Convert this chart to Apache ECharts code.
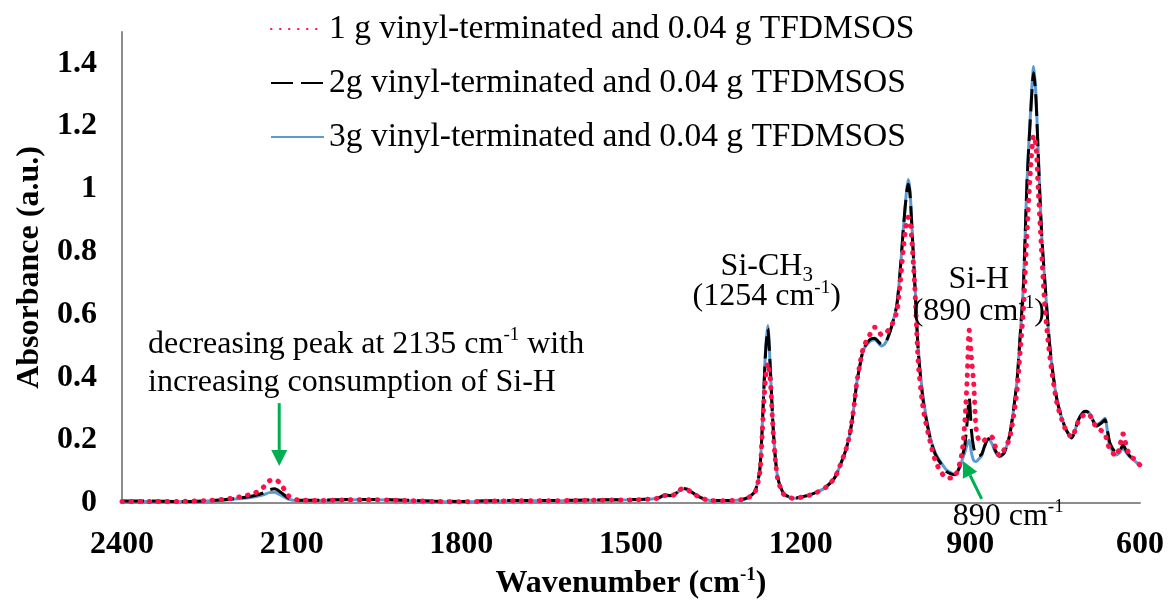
<!DOCTYPE html>
<html><head><meta charset="utf-8">
<script src="https://cdn.jsdelivr.net/npm/echarts@6/dist/echarts.min.js"></script>
<style>html,body{margin:0;padding:0;background:#fff}#c{width:1168px;height:605px}</style>
</head><body><div id="c"></div>
<script>
const wavenumbers = [
  2400, 2350, 2300, 2250, 2220, 2190, 2165, 2150, 2140, 2130,
  2120, 2105, 2090, 2050, 2000, 1950, 1900, 1850, 1800, 1750,
  1700, 1650, 1600, 1550, 1500, 1470, 1450, 1440, 1430, 1420,
  1410, 1400, 1390, 1375, 1360, 1340, 1320, 1300, 1290, 1280,
  1272, 1266, 1262, 1258, 1254, 1248, 1241, 1231, 1220, 1210,
  1195, 1184, 1170, 1154, 1140, 1131, 1120, 1113, 1107, 1101,
  1095, 1089, 1078, 1069, 1063, 1057, 1050, 1045, 1038, 1030,
  1024, 1019, 1014, 1010, 1007, 1004, 998, 992, 983, 971,
  962, 954, 942, 933, 927, 918, 914, 910, 906, 902,
  898, 894, 890, 885, 880, 875, 868, 862, 855, 848,
  840, 830, 818, 812, 806, 800, 794, 788, 784, 780,
  774, 768, 759, 747, 733, 721, 709, 700, 695, 689,
  677, 668, 662, 657, 653, 642, 636, 630, 624, 618,
  610, 600
];
// 1 g vinyl-terminated (red dotted)
const abs1g = [
  0.005, 0.005, 0.005, 0.008, 0.012, 0.020, 0.032, 0.050, 0.070, 0.075,
  0.062, 0.022, 0.010, 0.008, 0.010, 0.010, 0.008, 0.005, 0.004, 0.006,
  0.007, 0.007, 0.008, 0.009, 0.010, 0.012, 0.016, 0.024, 0.022, 0.030,
  0.045, 0.042, 0.030, 0.015, 0.008, 0.007, 0.008, 0.012, 0.020, 0.038,
  0.100, 0.290, 0.400, 0.445, 0.400, 0.210, 0.080, 0.030, 0.017, 0.015,
  0.020, 0.025, 0.035, 0.052, 0.080, 0.116, 0.170, 0.220, 0.290, 0.380,
  0.445, 0.495, 0.535, 0.560, 0.550, 0.535, 0.540, 0.550, 0.570, 0.610,
  0.700, 0.800, 0.880, 0.910, 0.900, 0.850, 0.680, 0.445, 0.296, 0.195,
  0.135, 0.105, 0.080, 0.080, 0.085, 0.130, 0.170, 0.250, 0.380, 0.550,
  0.460, 0.380, 0.240, 0.200, 0.195, 0.200, 0.210, 0.210, 0.175, 0.150,
  0.170, 0.210, 0.350, 0.480, 0.620, 0.850, 1.050, 1.170, 1.140, 1.000,
  0.800, 0.620, 0.460, 0.320, 0.240, 0.210, 0.260, 0.280, 0.282, 0.280,
  0.240, 0.230, 0.220, 0.190, 0.170, 0.150, 0.180, 0.220, 0.180, 0.150,
  0.140, 0.120
];
// 2g vinyl-terminated (black dashed)
const abs2g = [
  0.006, 0.006, 0.005, 0.007, 0.010, 0.016, 0.024, 0.032, 0.042, 0.045,
  0.035, 0.015, 0.009, 0.009, 0.011, 0.011, 0.009, 0.006, 0.005, 0.007,
  0.008, 0.008, 0.009, 0.010, 0.011, 0.013, 0.018, 0.026, 0.024, 0.032,
  0.047, 0.044, 0.032, 0.016, 0.009, 0.008, 0.009, 0.013, 0.021, 0.040,
  0.110, 0.320, 0.480, 0.555, 0.440, 0.220, 0.085, 0.033, 0.019, 0.016,
  0.021, 0.026, 0.036, 0.053, 0.080, 0.116, 0.170, 0.220, 0.290, 0.380,
  0.440, 0.490, 0.520, 0.525, 0.515, 0.505, 0.512, 0.530, 0.570, 0.630,
  0.740, 0.860, 0.965, 1.015, 0.990, 0.900, 0.690, 0.480, 0.320, 0.205,
  0.155, 0.130, 0.100, 0.092, 0.090, 0.120, 0.150, 0.180, 0.250, 0.335,
  0.230, 0.175, 0.155, 0.150, 0.155, 0.180, 0.205, 0.195, 0.165, 0.150,
  0.160, 0.220, 0.380, 0.530, 0.700, 1.010, 1.220, 1.370, 1.290, 1.110,
  0.860, 0.700, 0.490, 0.330, 0.243, 0.208, 0.265, 0.290, 0.292, 0.285,
  0.245, 0.255, 0.265, 0.225, 0.190, 0.160, 0.165, 0.185, 0.165, 0.150,
  0.137, 0.120
];
// 3g vinyl-terminated (blue solid)
const abs3g = [
  0.005, 0.005, 0.004, 0.006, 0.009, 0.014, 0.020, 0.026, 0.033, 0.034,
  0.026, 0.012, 0.008, 0.008, 0.010, 0.010, 0.008, 0.005, 0.004, 0.006,
  0.007, 0.007, 0.008, 0.009, 0.010, 0.012, 0.016, 0.024, 0.022, 0.030,
  0.045, 0.042, 0.030, 0.015, 0.008, 0.007, 0.008, 0.012, 0.020, 0.040,
  0.110, 0.330, 0.490, 0.565, 0.440, 0.220, 0.085, 0.032, 0.018, 0.015,
  0.020, 0.025, 0.035, 0.052, 0.080, 0.116, 0.170, 0.220, 0.290, 0.380,
  0.440, 0.487, 0.514, 0.520, 0.510, 0.500, 0.510, 0.530, 0.570, 0.630,
  0.740, 0.860, 0.970, 1.030, 1.000, 0.910, 0.700, 0.490, 0.330, 0.210,
  0.160, 0.135, 0.105, 0.095, 0.090, 0.115, 0.140, 0.160, 0.185, 0.200,
  0.160, 0.135, 0.132, 0.140, 0.150, 0.180, 0.205, 0.190, 0.160, 0.147,
  0.160, 0.220, 0.380, 0.530, 0.700, 1.020, 1.230, 1.390, 1.300, 1.120,
  0.860, 0.700, 0.490, 0.330, 0.243, 0.206, 0.264, 0.290, 0.290, 0.285,
  0.250, 0.260, 0.270, 0.220, 0.180, 0.153, 0.160, 0.175, 0.160, 0.147,
  0.135, 0.120
];
const seriesNames = [
  '1 g vinyl-terminated and 0.04 g TFDMSOS',
  '2g vinyl-terminated and 0.04 g TFDMSOS',
  '3g vinyl-terminated and 0.04 g TFDMSOS'
];
const xRange = [600, 2400];
const xStep = 300;
const yRange = [0, 1.5];
const yStep = 0.2;

const FONT = "'Liberation Serif', 'Times New Roman', serif";
const chart = echarts.init(document.getElementById('c'), null, {renderer: 'canvas'});
const pairs = vals => wavenumbers.map((w, i) => [w, vals[i]]);

const option = {
  animation: false,
  backgroundColor: '#fff',
  grid: {left: 122, right: 28, top: 32, bottom: 102, containLabel: false, outerBoundsMode: 'none'},
  legend: {
    data: seriesNames,
    orient: 'vertical',
    left: 265, top: 7,
    itemWidth: 53, itemHeight: 14, itemGap: 20,
    itemStyle: {opacity: 0},
    textStyle: {fontFamily: FONT, fontSize: 33.5, color: '#000', lineHeight: 34}
  },
  xAxis: {
    type: 'value', inverse: true,
    min: xRange[0], max: xRange[1], interval: xStep,
    axisLine: {lineStyle: {color: '#8c8c8c', width: 2}},
    axisTick: {show: false},
    splitLine: {show: false},
    axisLabel: {fontFamily: FONT, fontSize: 32, fontWeight: 'bold', color: '#000', margin: 26,
      formatter: v => String(v)},
    name: '{b|Wavenumber (cm}{s|-1}{b|)}',
    nameLocation: 'middle', nameGap: 60,
    nameTextStyle: {
      rich: {
        b: {fontFamily: FONT, fontSize: 32, fontWeight: 'bold', color: '#000', lineHeight: 36},
        s: {fontFamily: FONT, fontSize: 19, fontWeight: 'bold', color: '#000', lineHeight: 19, verticalAlign: 'top'}
      }
    }
  },
  yAxis: {
    type: 'value',
    min: yRange[0], max: yRange[1], interval: yStep,
    axisLine: {show: true, lineStyle: {color: '#8c8c8c', width: 2}},
    axisTick: {show: false},
    splitLine: {show: false},
    axisLabel: {fontFamily: FONT, fontSize: 32, fontWeight: 'bold', color: '#000', margin: 25, showMaxLabel: false},
    name: 'Absorbance (a.u.)',
    nameLocation: 'middle', nameGap: 69,
    nameTextStyle: {fontFamily: FONT, fontSize: 32, fontWeight: 'bold', color: '#000'}
  },
  series: [
    {
      name: seriesNames[2], type: 'line', data: pairs(abs3g), showSymbol: false, symbol: 'none',
      smooth: 0.25, color: '#5B9BD5',
      lineStyle: {color: '#5B9BD5', width: 3}
    },
    {
      name: seriesNames[1], type: 'line', data: pairs(abs2g), showSymbol: false, symbol: 'none',
      smooth: 0.25, color: '#000',
      lineStyle: {color: '#000', width: 3, type: [22, 8]}
    },
    {
      name: seriesNames[0], type: 'line', data: pairs(abs1g), showSymbol: false, symbol: 'none',
      smooth: 0.25, color: '#FF1048',
      lineStyle: {color: '#FF1048', width: 5, type: [0.5, 8.5], cap: 'round'}
    }
  ]
};
chart.setOption(option);

// annotations positioned via data coordinates
const P = (w, v) => chart.convertToPixel({gridIndex: 0}, [w, v]);
const GREEN = '#00B050';
function arrow(from, to) {
  const dx = to[0] - from[0], dy = to[1] - from[1];
  const len = Math.hypot(dx, dy), ux = dx / len, uy = dy / len;
  const hl = 16, hw = 8;
  const bx = to[0] - ux * hl, by = to[1] - uy * hl;
  return [
    {type: 'line', shape: {x1: from[0], y1: from[1], x2: bx, y2: by}, style: {stroke: GREEN, lineWidth: 3}},
    {type: 'polygon', shape: {points: [[to[0], to[1]], [bx - uy * hw, by + ux * hw], [bx + uy * hw, by - ux * hw]]}, style: {fill: GREEN}}
  ];
}
const richBase = {
  n: {fontFamily: FONT, fontSize: 32, color: '#000', lineHeight: 38},
  s: {fontFamily: FONT, fontSize: 19, color: '#000', lineHeight: 19, verticalAlign: 'top'},
  d: {fontFamily: FONT, fontSize: 21, color: '#000', lineHeight: 21, verticalAlign: 'bottom'}
};
function label(pos, text, align, vAlign) {
  return {type: 'text', x: pos[0], y: pos[1], z: 100,
    style: {text: text, rich: richBase, align: align, verticalAlign: vAlign, fontFamily: FONT, fontSize: 32, fill: '#000'}};
}
const g = [];
g.push(label(P(2354, 0.565), '{n|decreasing peak at 2135 cm}{s|-1}{n| with}\n{n|increasing consumption of Si-H}', 'left', 'top'));
arrow(P(2122, 0.318), P(2122, 0.118)).forEach(e => g.push(e));
g.push(label(P(1260, 0.752), '{n|Si-CH}{d|3}', 'center', 'middle'));
g.push(label(P(1260, 0.656), '{n|(1254 cm}{s|-1}{n|)}', 'center', 'middle'));
g.push(label(P(885, 0.710), '{n|Si-H}', 'center', 'middle'));
g.push(label(P(885, 0.608), '{n|(890 cm}{s|-1}{n|)}', 'center', 'middle'));
g.push(label(P(833, -0.042), '{n|890 cm}{s|-1}', 'center', 'middle'));
arrow(P(880, 0.013), P(913, 0.134)).forEach(e => g.push(e));
chart.setOption({graphic: {elements: g}});
</script>
</body></html>
